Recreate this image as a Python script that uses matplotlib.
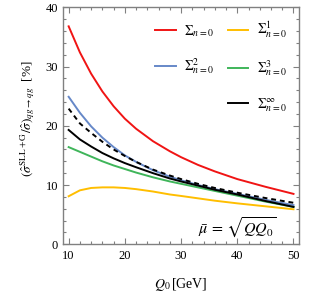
import matplotlib
matplotlib.use("Agg")
import matplotlib.pyplot as plt
from matplotlib.lines import Line2D

plt.rcParams['font.family'] = ['Liberation Serif', 'DejaVu Serif']
plt.rcParams['mathtext.fontset'] = 'stix'

q0 = [10, 12, 14, 16, 18, 20, 22, 25, 28, 30, 33, 36, 40, 45, 50]
sum_n0 = [36.8, 32.4, 28.8, 25.8, 23.3, 21.2, 19.5, 17.4, 15.7, 14.7, 13.4, 12.3, 11.0, 9.7, 8.5]
sum_n1 = [8.1, 9.1, 9.5, 9.6, 9.6, 9.5, 9.3, 8.9, 8.4, 8.15, 7.75, 7.35, 6.9, 6.4, 5.9]
sum_n2 = [24.9, 22.2, 19.9, 18.0, 16.4, 15.0, 13.9, 12.5, 11.4, 10.8, 10.0, 9.3, 8.5, 7.5, 6.6]
sum_n3 = [16.4, 15.6, 14.8, 14.0, 13.3, 12.7, 12.1, 11.3, 10.6, 10.2, 9.6, 9.0, 8.2, 7.2, 6.3]
sum_inf = [19.3, 17.7, 16.5, 15.4, 14.5, 13.7, 13.0, 12.0, 11.1, 10.6, 9.9, 9.2, 8.4, 7.3, 6.3]
sum_dashed = [22.9, 20.4, 18.8, 17.3, 16.0, 14.9, 13.9, 12.6, 11.6, 11.0, 10.2, 9.5, 8.7, 7.8, 7.0]

colors = {'n0': '#f01414', 'n1': '#ffbe00', 'n2': '#6688c8', 'n3': '#3fb55a', 'inf': '#000000'}
lw = 1.4

fig = plt.figure(figsize=(3.09, 2.96), dpi=100)
ax = fig.add_axes([0.204, 0.175, 0.764, 0.800])

ax.plot(q0, sum_n0, color=colors['n0'], lw=lw)
ax.plot(q0, sum_n1, color=colors['n1'], lw=lw)
ax.plot(q0, sum_n3, color=colors['n3'], lw=lw)
ax.plot(q0, sum_n2, color=colors['n2'], lw=lw)
ax.plot(q0, sum_inf, color=colors['inf'], lw=lw)
ax.plot(q0, sum_dashed, color='black', lw=lw, ls=(0, (2.5, 2.0)))

ax.set_xlim(9, 51)
ax.set_ylim(0, 40)
ax.set_xticks([10, 20, 30, 40, 50])
ax.set_yticks([0, 10, 20, 30, 40])
ax.set_xticks(range(10, 51, 2), minor=True)
ax.set_yticks(range(0, 41, 2), minor=True)
for s in ax.spines.values():
    s.set_color('#808080')
    s.set_linewidth(1.0)
ax.tick_params(which='both', direction='in', top=True, right=True, color='#808080', labelsize=9)
ax.tick_params(which='major', length=4, width=0.8)
ax.tick_params(which='minor', length=2, width=0.8)
ax.tick_params(axis='x', pad=4)

ax.set_xlabel(r'$Q_0\,$[GeV]', fontsize=10, labelpad=10)
ax.set_ylabel(r'$\left(\hat{\sigma}^{\mathrm{SLL+G}}/\hat{\sigma}\right)_{qg\to qg}$  [%]', fontsize=9.5)
ax.yaxis.set_label_coords(-0.11, 0.53)

handles = [
    Line2D([], [], color=colors['n0'], lw=lw),
    Line2D([], [], color=colors['n2'], lw=lw),
    Line2D([], [], color='none', lw=0),
    Line2D([], [], color=colors['n1'], lw=lw),
    Line2D([], [], color=colors['n3'], lw=lw),
    Line2D([], [], color=colors['inf'], lw=lw),
]
labels = [r'$\Sigma_{n=0}$', r'$\Sigma^2_{n=0}$', '', r'$\Sigma^1_{n=0}$', r'$\Sigma^3_{n=0}$', r'$\Sigma^\infty_{n=0}$']
ax.legend(handles, labels, ncol=2, frameon=False, loc='upper right', bbox_to_anchor=(1.0, 1.0),
          fontsize=10, handlelength=1.5, handletextpad=0.6, columnspacing=1.0, labelspacing=1.3)

ax.text(40, 2.8, r'$\bar{\mu}\,=\,\sqrt{Q Q_0}$', fontsize=11.5, ha='center', va='center')

fig.savefig('out.png', dpi=100)
